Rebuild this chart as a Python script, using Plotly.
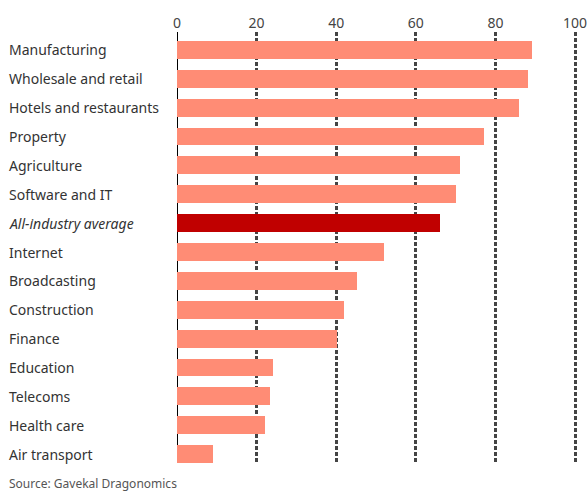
import plotly.graph_objects as go

categories = ["Manufacturing", "Wholesale and retail", "Hotels and restaurants", "Property",
              "Agriculture", "Software and IT", "All-industry average", "Internet",
              "Broadcasting", "Construction", "Finance", "Education", "Telecoms",
              "Health care", "Air transport"]
values = [89.2, 88.2, 86.0, 77.1, 71.0, 70.1, 66.2, 52.1, 45.2, 42.0, 40.1, 24.0, 23.3, 22.2, 9.0]
highlight = "All-industry average"
x_ticks = [0, 20, 40, 60, 80, 100]
source = "Source: Gavekal Dragonomics"

W, H = 587, 494
XMAX = 101.0
UNIT = 3.99
ML, MT, MB = 176.5, 32, 31
pw = XMAX * UNIT
MR = W - ML - pw

colors = ["#C00000" if c == highlight else "#FF8C75" for c in categories]
idx = list(range(len(categories)))

fig = go.Figure(go.Bar(
    x=values, y=idx, orientation="h",
    marker=dict(color=colors, line=dict(width=0)),
    width=0.62,
))

annotations = []
for i, c in zip(idx, categories):
    txt = f"<i>{c}</i>" if c == highlight else c
    annotations.append(dict(
        text=txt, x=(6 - ML) / pw, xref="paper", y=i, yref="y",
        xanchor="left", yanchor="middle", showarrow=False,
        font=dict(family="Noto Sans", size=14, color="#333333"),
    ))
annotations.append(dict(
    text=source, x=(6 - ML) / pw, xref="paper", y=-(483 - (H - MB)) / (H - MT - MB), yref="paper",
    xanchor="left", yanchor="middle", showarrow=False,
    font=dict(family="Noto Sans", size=12, color="#555555"),
))

fig.update_layout(
    width=W, height=H,
    margin=dict(l=ML, r=MR, t=MT, b=MB, pad=0, autoexpand=False),
    paper_bgcolor="white", plot_bgcolor="white",
    showlegend=False,
    bargap=0,
    annotations=annotations,
    xaxis=dict(
        side="top", range=[0, XMAX], tickvals=x_ticks, ticktext=[str(t) for t in x_ticks],
        showgrid=True, gridcolor="#444444", gridwidth=2.5, griddash="4px,2px",
        zeroline=True, zerolinecolor="black", zerolinewidth=1,
        showline=False, ticks="", ticklabeloverflow="allow", automargin=False,
        tickfont=dict(family="Noto Sans", size=14, color="#444444"),
        fixedrange=True,
    ),
    yaxis=dict(
        range=[len(categories) - 1 + 0.31, -0.622], automargin=False,
        showticklabels=False, showgrid=False, zeroline=False, showline=False, ticks="",
        fixedrange=True,
    ),
)

fig.write_html("out.html", config={"displayModeBar": False})
with open("out.html", "r", encoding="utf-8") as f:
    html = f.read()
html = html.replace("<head>", "<head><style>html,body{margin:0;padding:0;overflow:hidden;}</style>", 1)
with open("out.html", "w", encoding="utf-8") as f:
    f.write(html)
